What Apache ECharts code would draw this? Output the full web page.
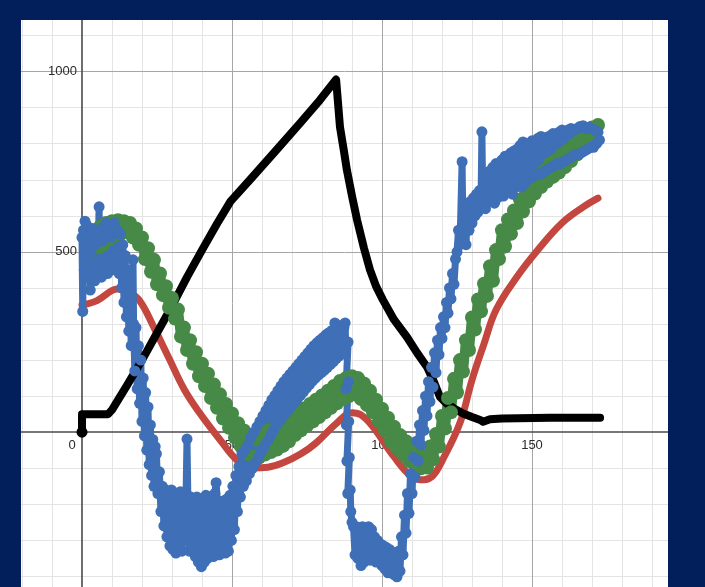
<!DOCTYPE html>
<html>
<head>
<meta charset="utf-8">
<script src="https://cdn.jsdelivr.net/npm/echarts@6/dist/echarts.min.js"></script>
<style>html,body{margin:0;padding:0;background:#021f5c;}#c{width:705px;height:587px;}</style>
</head>
<body>
<div id="c"></div>
<script>
// ---- tick labels ----
const xTickLabels = [50, 100, 150];
const yTickLabels = [500, 1000];
const originLabel = '0';

// ---- grid line positions ----
const xMinorLines = [-20,-10,10,20,30,40,60,70,80,90,110,120,130,140,160,170,180,190];
const xMajorLines = [50, 100, 150];
const yMinorLines = [-400,-300,-200,-100,100,200,300,400,600,700,800,900,1100];
const yMajorLines = [500, 1000];

// ---- black curve [x, y] ----
const blackData = [[0,0],[0,50],[8.7,50],[10,62],[15,130],[20,200],[25,275],[30,350],[35,430],[40,505],[45,578],[49.5,640],[56,700],[64,775],[72.7,857],[79.3,921],[84.7,978],[86,846],[87.3,780],[88.3,727],[90,655],[91.7,588],[94,510],[96,450],[98,405],[100.3,367],[104,312],[108.3,264],[111.7,220],[115,181],[117.3,140],[119.3,98],[121.5,80],[124,66],[127,52],[130,42],[132.7,34],[133.7,29],[136,36],[140,38],[156,40],[172.7,40]];

// ---- red curve [x, y] ----
const redData = [[0,353],[5,365],[10,393],[12,397],[15,390],[19,367],[24,290],[29,205],[34,120],[39,56],[46,-21],[52,-80],[57,-99],[62,-97],[67,-85],[73,-60],[78,-30],[85,26],[90,54],[93,48],[97,15],[104,-68],[110,-124],[114,-132],[117,-120],[120,-80],[126,26],[130,145],[134,245],[138,339],[145,431],[152,506],[160,580],[167,624],[172,649]];

// ---- green values at x = 4,5,6,... ----
const greenX0 = 4;
const greenY = [
555,505,570,520,580,535,
585,545,588,550,585,555,580,540,565,520,
540,480,510,445,478,410,440,380,405,345,
372,315,340,265,290,228,255,190,222,155,
190,128,162,95,132,68,105,38,78,12,
52,-15,25,-40,5,-60,-12,-68,-20,-70,
-2,-62,5,-55,10,-48,18,-38,28,-25,
42,-8,55,5,66,18,78,30,90,42,
102,55,115,68,128,80,142,92,150,100,
155,105,150,92,135,75,115,55,90,30,
65,5,40,-25,15,-45,-8,-62,-25,-80,
-35,-90,-45,-100,-45,-98,-40,-75,-5,-40,
45,10,95,55,148,110,200,168,255,228,
318,285,368,335,412,378,460,420,505,480,
560,515,590,550,615,580,645,612,668,640,
692,662,712,680,725,695,745,708,755,720,
770,735,782,752,796,770,810,785,828,800,
845,815,852];

// ---- blue measured points [x, y] ----
const blueData = [
[0,540],[0.25,335],[0.5,560],[0.75,450],[1,585],[1.25,480],[1.5,575],[1.75,430],[2,530],[2.25,460],[2.5,545],[2.75,394],[3,500],[3.25,440],[3.5,565],[3.75,470],[4,545],[4.25,420],[4.5,520],[4.75,455],[5,560],[5.25,470],[5.5,540],[5.7,625],[5.9,480],[6.2,555],[6.5,430],[6.75,530],[7,460],[7.25,570],[7.5,450],[7.75,540],[8,470],[8.25,580],[8.5,440],[8.75,555],[9,480],[9.25,575],[9.5,460],[9.75,540],[10,450],[10.25,570],[10.5,490],[10.75,580],[11,470],[11.25,555],[11.5,500],[11.75,560],[12,480],
[12.4,440],[12.8,550],[13.2,400],[13.6,520],[14,360],[14.4,490],[14.8,320],[15.2,450],[15.6,280],[16,400],[16.4,240],[17,478],[17.2,300],[17.6,170],[18,290],[18.4,120],[18.8,240],[19.2,80],[19.6,200],[20,30],[20.4,150],[20.8,-10],[21.2,110],[21.6,-50],[22,70],[22.4,-90],[22.8,20],[23.2,-120],[23.6,-20],[24,-150],[24.4,-40],
[24.8,-60],[25.3,-170],[25.8,-110],[26.3,-220],[26.8,-150],[27.3,-260],[27.8,-160],[28.3,-290],[28.8,-165],[29.3,-315],[29.8,-160],[30.3,-325],[30.8,-170],[31.3,-335],[31.8,-175],[32.3,-320],[32.8,-165],[33.3,-330],[33.8,-175],[34.3,-300],[34.7,-170],[35,-19],[35.3,-190],[35.8,-330],[36.3,-180],[36.8,-320],[37.3,-185],[37.8,-345],[38.3,-180],[38.8,-360],[39.3,-190],[39.8,-373],[40.3,-185],[40.8,-360],[41.3,-175],[41.8,-350],[42.3,-180],[42.8,-340],[43.3,-190],[43.8,-345],[44.3,-170],[44.7,-140],[45.1,-190],[45.8,-340],[46.3,-195],[46.8,-330],[47.3,-190],[47.8,-335],[48.3,-185],[48.8,-330],[49.3,-175],[49.8,-300],[50.3,-150],[50.8,-270],[51.3,-120],[51.8,-220],[52.3,-95],[52.8,-180],
[53.3,-60],[53.8,-150],[54.3,-50],[54.8,-135],[55.3,-35],[55.8,-115],[56.3,-15],[56.8,-100],[57.3,0],[57.8,-85],[58.3,15],[58.8,-70],[59.3,30],[59.8,-55],[60.3,45],[60.8,-40],[61.3,60],[61.8,-25],[62.3,75],[62.8,-10],[63.3,90],[63.8,5],[64.3,102],[64.8,20],[65.3,115],[65.8,30],[66.3,128],[66.8,42],[67.3,140],[67.8,52],[68.3,150],[68.8,62],[69.3,160],[69.8,72],[70.3,170],[70.8,82],[71.3,180],[71.8,92],[72.3,190],[72.8,102],[73.3,200],[73.8,112],[74.3,210],[74.8,122],[75.3,220],[75.8,132],[76.3,230],[76.8,142],[77.3,240],[77.8,150],[78.3,248],[78.8,158],[79.3,255],[79.8,165],[80.3,262],[80.8,172],[81.3,270],[81.8,180],[82.3,276],[82.8,188],[83.3,282],[83.8,196],[84.3,303],[84.8,205],[85.3,292],[85.8,212],[86.3,295],[86.8,220],[87.3,290],[87.7,303],
[87.9,240],[88.7,250],[88.0,120],[88.8,140],[88.1,20],[88.9,30],[88.3,-80],[89.1,-70],[88.6,-170],[89.4,-160],[89.6,-220],[90,-250],
[90.5,-262],[91,-340],[91.5,-262],[92,-350],[92.5,-265],[93,-370],[93.5,-262],[94,-360],[94.5,-265],[95,-350],[95.5,-262],[96,-355],[96.5,-270],[97,-350],[97.5,-290],[98,-360],[98.5,-300],[99,-355],[99.5,-310],[100,-370],[100.5,-315],[101,-380],[101.5,-320],[102,-390],[102.5,-325],[103,-385],[103.5,-335],[104,-395],[104.5,-335],[105,-401],[105.5,-330],[106,-385],[106.5,-290],[107,-340],[107.5,-230],[108,-280],[108.5,-170],[109,-225],[109.5,-115],[110,-170],[110.5,-70],[111,-125],[111.5,-25],[112,-80],[112.5,20],[113,-35],[113.5,60],[114,5],[114.5,100],[115,45],[115.5,140],[116,85],[116.5,180],[117,125],[117.5,220],[118,165],[118.5,255],[119,215],[119.5,290],[120,260],
[120.5,320],[121,290],[121.5,360],[122,330],[122.5,400],[123,370],[123.5,440],[124,410],[124.5,480],[125,500],[125.5,560],[126,520],[126.7,750],[127,540],[127.5,600],[128,520],[128.5,620],[129,560],[129.5,640],[130,580],[130.5,650],[131,600],[131.5,660],[132,610],[132.5,670],[133,630],[133.3,833],[133.6,640],
[134,695],[134.5,620],[135,715],[135.5,640],[136,725],[136.5,650],[137,735],[137.5,635],[138,745],[138.5,650],[139,740],[139.5,660],[140,755],[140.5,655],[141,765],[141.5,665],[142,760],[142.5,670],[143,775],[143.5,660],[144,780],[144.5,680],[145,785],[145.5,685],[146,795],[146.5,680],[147,805],[147.5,690],[148,795],[148.5,700],[149,800],[149.5,705],[150,808],[150.5,710],[151,805],[151.5,715],[152,815],[152.5,715],[153,820],[153.5,720],[154,810],[154.5,725],[155,818],[155.5,730],[156,822],[156.5,735],[157,828],[157.5,740],[158,822],[158.5,745],[159,832],[159.5,745],[160,838],[160.5,750],[161,832],[161.5,755],[162,838],[162.5,760],[163,842],[163.5,765],[164,838],[164.5,770],[165,842],[165.5,770],[166,848],[166.5,775],[167,850],[167.5,780],[168,842],[168.5,785],[169,846],[169.5,790],[170,842],[170.5,790],[171,838],[171.5,800],[172,832],[172.5,810]
];

const NAVY = '#021f5c';
const FONT = '13px "Liberation Sans", Arial, sans-serif';
const chart = echarts.init(document.getElementById('c'), null, {renderer: 'canvas'});
const X_MIN = -20.333, X_MAX = 195.333, Y_MIN = -429.3, Y_MAX = 1143.1;

const greenData = greenY.map((y, i) => [greenX0 + i, y]);
const blackSeriesData = blackData.map((p, i) => i === 0 ? {value: p, symbol: 'circle', symbolSize: 11} : {value: p, symbol: 'none'});

const solid = (color, width) => ({color: color, width: width, type: 'solid'});
const gridLines = []
  .concat(xMinorLines.map(v => ({xAxis: v, lineStyle: solid('#e4e4e4', 1)})))
  .concat(yMinorLines.map(v => ({yAxis: v, lineStyle: solid('#e4e4e4', 1)})))
  .concat(xMajorLines.map(v => ({xAxis: v, lineStyle: solid('#a6a6a6', 1)})))
  .concat(yMajorLines.map(v => ({yAxis: v, lineStyle: solid('#a6a6a6', 1)})))
  .concat([{xAxis: 0, lineStyle: solid('#4a4a4a', 1.6)}, {yAxis: 0, lineStyle: solid('#4a4a4a', 1.6)}]);

chart.setOption({
  animation: false,
  backgroundColor: '#ffffff',
  grid: {left: 21, right: 37, top: 20, bottom: 0, containLabel: false, outerBoundsMode: 'none'},
  xAxis: {type: 'value', min: X_MIN, max: X_MAX, show: true,
    axisLine: {show: false}, axisTick: {show: false}, axisLabel: {show: false}, splitLine: {show: false}},
  yAxis: {type: 'value', min: Y_MIN, max: Y_MAX, show: true,
    axisLine: {show: false}, axisTick: {show: false}, axisLabel: {show: false}, splitLine: {show: false}},
  series: [
    {name: 'grid', type: 'line', data: [], silent: true, z: 0,
     markLine: {silent: true, symbol: ['none', 'none'], z: 0, animation: false, label: {show: false},
                lineStyle: {type: 'solid'}, emphasis: {disabled: true}, data: gridLines}},
    {name: 'green', type: 'line', data: greenData, symbol: 'circle', symbolSize: 14,
     itemStyle: {color: '#478a47'}, lineStyle: {color: '#478a47', width: 10, join: 'round'}, z: 2},
    {name: 'red', type: 'line', data: redData, smooth: 0.4, showSymbol: false,
     lineStyle: {color: '#c4473f', width: 7, cap: 'round'}, z: 2},
    {name: 'blue', type: 'line', data: blueData, symbol: 'circle', symbolSize: 11,
     itemStyle: {color: '#3e6fb7'}, lineStyle: {color: '#3e6fb7', width: 7, join: 'round'}, z: 2},
    {name: 'black', type: 'line', data: blackSeriesData, showSymbol: true,
     itemStyle: {color: '#000'}, lineStyle: {color: '#000', width: 8, cap: 'round', join: 'round'}, z: 2}
  ]
});

// tick labels placed through the chart's own scales
const px = (x, y) => chart.convertToPixel({gridIndex: 0}, [x, y]);
const labelEls = [];
xTickLabels.forEach(v => {
  const p = px(v, 0);
  labelEls.push({type: 'text', x: p[0], y: p[1] + 13, z: 1, silent: true,
    style: {text: String(v), fill: '#2b2b2b', font: FONT, textAlign: 'center', textVerticalAlign: 'middle'}});
});
yTickLabels.forEach(v => {
  const p = px(0, v);
  labelEls.push({type: 'text', x: p[0] - 5, y: p[1], z: 1, silent: true,
    style: {text: String(v), fill: '#2b2b2b', font: FONT, textAlign: 'right', textVerticalAlign: 'middle'}});
});
const o = px(0, 0);
labelEls.push({type: 'text', x: o[0] - 10, y: o[1] + 13, z: 1, silent: true,
  style: {text: originLabel, fill: '#2b2b2b', font: FONT, textAlign: 'center', textVerticalAlign: 'middle'}});

chart.setOption({
  graphic: [
    {type: 'rect', shape: {x: 0, y: 0, width: 705, height: 20}, style: {fill: NAVY}, z: 100, silent: true},
    {type: 'rect', shape: {x: 0, y: 0, width: 21, height: 587}, style: {fill: NAVY}, z: 100, silent: true},
    {type: 'rect', shape: {x: 668, y: 0, width: 37, height: 587}, style: {fill: NAVY}, z: 100, silent: true}
  ].concat(labelEls)
});
</script>
</body>
</html>
